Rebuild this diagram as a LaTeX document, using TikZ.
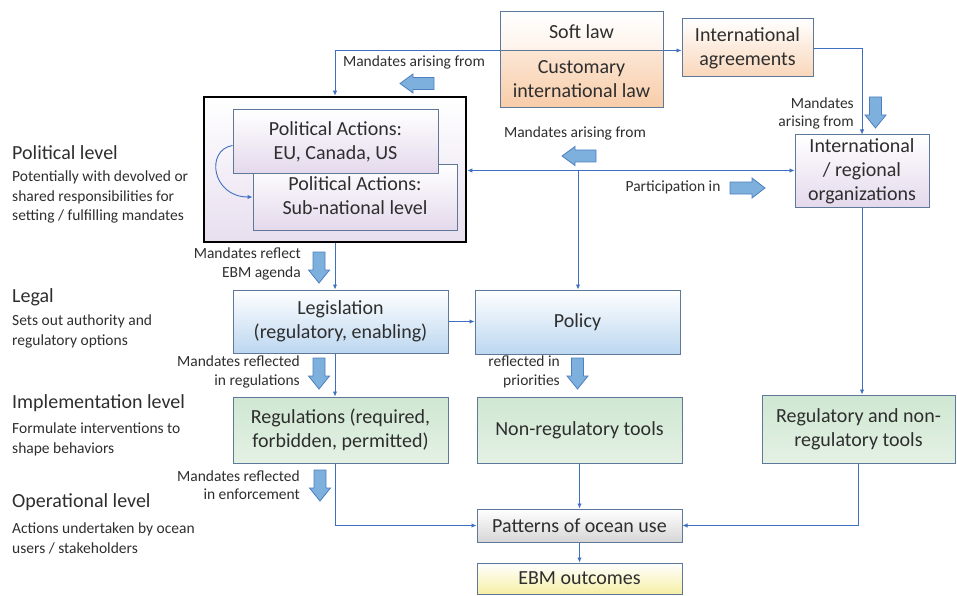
\documentclass[tikz,border=0pt]{standalone}
\usepackage{fontspec}
\setmainfont{Carlito}
\usetikzlibrary{arrows.meta}
\definecolor{bord}{HTML}{5E7899}
\definecolor{lnk}{HTML}{3F6FBF}
\definecolor{txt}{HTML}{2E2E2E}
\definecolor{blkfill}{HTML}{7EB0DD}
\definecolor{blkdraw}{HTML}{4F7FBF}
\definecolor{purp}{HTML}{E4D9EC}
\definecolor{orgA}{HTML}{FCE6D4}
\definecolor{orgB}{HTML}{F8CCA8}
\definecolor{bluB}{HTML}{BCD7F0}
\definecolor{grnA}{HTML}{CFE7D2}
\definecolor{grnB}{HTML}{E4F1E4}
\definecolor{gryB}{HTML}{D6D6D6}
\definecolor{ylwB}{HTML}{F6EFA6}
\begin{document}
\begin{tikzpicture}[x=1pt,y=-1pt,
  box/.style={draw=bord,line width=1pt,align=center,inner sep=0pt,text=txt,font=\fontsize{20}{24}\selectfont},
  purpbox/.style={box,top color=white,bottom color=purp},
  orbox/.style={box,top color=orgA,bottom color=orgB},
  blubox/.style={box,top color=white,bottom color=bluB},
  grnbox/.style={box,top color=grnA,bottom color=grnB},
  grybox/.style={box,top color=white,bottom color=gryB},
  ylwbox/.style={box,top color=white,bottom color=ylwB},
  conn/.style={draw=lnk,line width=0.9pt,-{Latex[length=5pt,width=4.5pt]}},
  blk/.style={fill=blkfill,draw=blkdraw,line width=0.8pt},
  small/.style={text=txt,font=\fontsize{15.5}{18.5}\selectfont,inner sep=0pt},
  head/.style={text=txt,font=\fontsize{20}{24}\selectfont,inner sep=0pt,anchor=west},
  desc/.style={text=txt,font=\fontsize{15.5}{19.5}\selectfont,inner sep=0pt,align=left,anchor=north west},
  darr/.pic={\path[blk] (-6,0) -- (6,0) -- (6,18) -- (10.5,18) -- (0,31) -- (-10.5,18) -- (-6,18) -- cycle;},
  larr/.pic={\path[blk] (0,0) -- (13,-9.5) -- (13,-6) -- (34,-6) -- (34,6) -- (13,6) -- (13,9.5) -- cycle;},
  rarr/.pic={\path[blk] (0,0) -- (-13,-10) -- (-13,-6) -- (-35,-6) -- (-35,6) -- (-13,6) -- (-13,10) -- cycle;}
]
\useasboundingbox (0,0) rectangle (957,596);

% top boxes
\node[box,top color=white,bottom color=orgA!50,minimum width=163pt,minimum height=39pt] (soft) at (581.5,31.5) {Soft law};
\node[orbox,minimum width=163pt,minimum height=57pt] (cust) at (581.5,79.5) {Customary\\international law};
\node[box,top color=white,bottom color=orgB!80,minimum width=131pt,minimum height=58pt] (intagr) at (747.5,48) {International\\agreements};

% political box
\node[draw=black,line width=2.6pt,top color=white,bottom color=purp!85,minimum width=262pt,minimum height=145pt,inner sep=0pt] (big) at (335,169.5) {};
\node[purpbox,minimum width=204pt,minimum height=65pt] (sub) at (355,197.5) {\raisebox{-6pt}{\begin{tabular}{@{}c@{}}Political Actions:\\Sub-national level\end{tabular}}};
\node[purpbox,minimum width=205pt,minimum height=63pt] (eu) at (335.5,141.5) {Political Actions:\\EU, Canada, US};

\node[purpbox,minimum width=134pt,minimum height=72pt] (intorg) at (862,171) {International\\/ regional\\organizations};

% middle boxes
\node[blubox,minimum width=215pt,minimum height=63pt] (leg) at (340.5,321.5) {Legislation\\(regulatory, enabling)};
\node[blubox,minimum width=205pt,minimum height=64pt] (policy) at (577.5,322) {Policy};
\node[grnbox,minimum width=215pt,minimum height=66pt] (regs) at (340.5,430) {Regulations (required,\\forbidden, permitted)};
\node[grnbox,minimum width=205pt,minimum height=66pt] (nonreg) at (579.5,430) {Non-regulatory tools};
\node[grnbox,minimum width=193pt,minimum height=68pt] (regtools) at (858.5,429) {Regulatory and non-\\regulatory tools};
\node[grybox,minimum width=205pt,minimum height=33pt] (patt) at (579.5,525.5) {Patterns of ocean use};
\node[ylwbox,minimum width=205pt,minimum height=31pt] (ebm) at (579.5,578.5) {EBM outcomes};

% connectors
\coordinate (j) at (578,170.5);
\draw[conn] (cust.north west) -| (big.north);
\draw[conn] (cust.north east) -- (cust.north east -| intagr.west);
\draw[conn] (intagr.east) -| (intorg.north);
\draw[draw=lnk,line width=0.9pt,{Latex[length=5pt,width=4.5pt]}-{Latex[length=5pt,width=4.5pt]}] (j -| big.east) -- (j -| intorg.west);
\draw[conn] (j) -- (j |- policy.north);
\draw[conn] (eu.west) ++(0,4) .. controls (205,150) and (212,197) .. (sub.west |- 0,197);
\draw[conn] (big.south) -- (big.south |- leg.north);
\draw[conn] (leg.east) -- (leg.east -| policy.west);
\draw[conn] (big.south |- leg.south) -- (big.south |- regs.north);
\draw[conn] (big.south |- regs.south) |- (patt.west);
\draw[conn] (nonreg.south) -- (patt.north);
\draw[conn] (intorg.south) -- (intorg.south |- regtools.north);
\draw[conn] (regtools.south) |- (patt.east);
\draw[conn] (patt.south) -- (ebm.north);

% block arrows
\pic at (400,83.5) {larr};
\pic at (562,156) {larr};
\pic at (765,188) {rarr};
\pic at (875.5,97) {darr};
\pic at (319,252) {darr};
\pic at (319,358) {darr};
\pic at (577.5,358) {darr};
\pic at (320,470) {darr};

% small labels
\node[small] (l1) at (414,62) {Mandates arising from};
\node[small] (l2) at (575,133) {Mandates arising from};
\node[small,align=right,anchor=east] (l3) at (854,113.5) {Mandates\\arising from};
\node[small] (l4) at (673,187) {Participation in};
\node[small,align=right,anchor=east] (l5) at (301,264) {Mandates reflect\\EBM agenda};
\node[small,align=right,anchor=east] (l6) at (300,372) {Mandates reflected\\in regulations};
\node[small,align=right,anchor=east] (l7) at (560,372) {reflected in\\priorities};
\node[small,align=right,anchor=east] (l8) at (300,485) {Mandates reflected\\in enforcement};

% left level labels
\node[head] (h1) at (12,153) {Political level};
\node[desc] (d1) at (12,171) {Potentially with devolved or\\shared responsibilities for\\setting / fulfilling mandates};
\node[head] (h2) at (12,297) {Legal};
\node[desc] (d2) at (12,315) {Sets out authority and\\regulatory options};
\node[head] (h3) at (12,403) {Implementation level};
\node[desc] (d3) at (12,423) {Formulate interventions to\\shape behaviors};
\node[head] (h4) at (12,502) {Operational level};
\node[desc] (d4) at (12,523) {Actions undertaken by ocean\\users / stakeholders};
\end{tikzpicture}
\end{document}
